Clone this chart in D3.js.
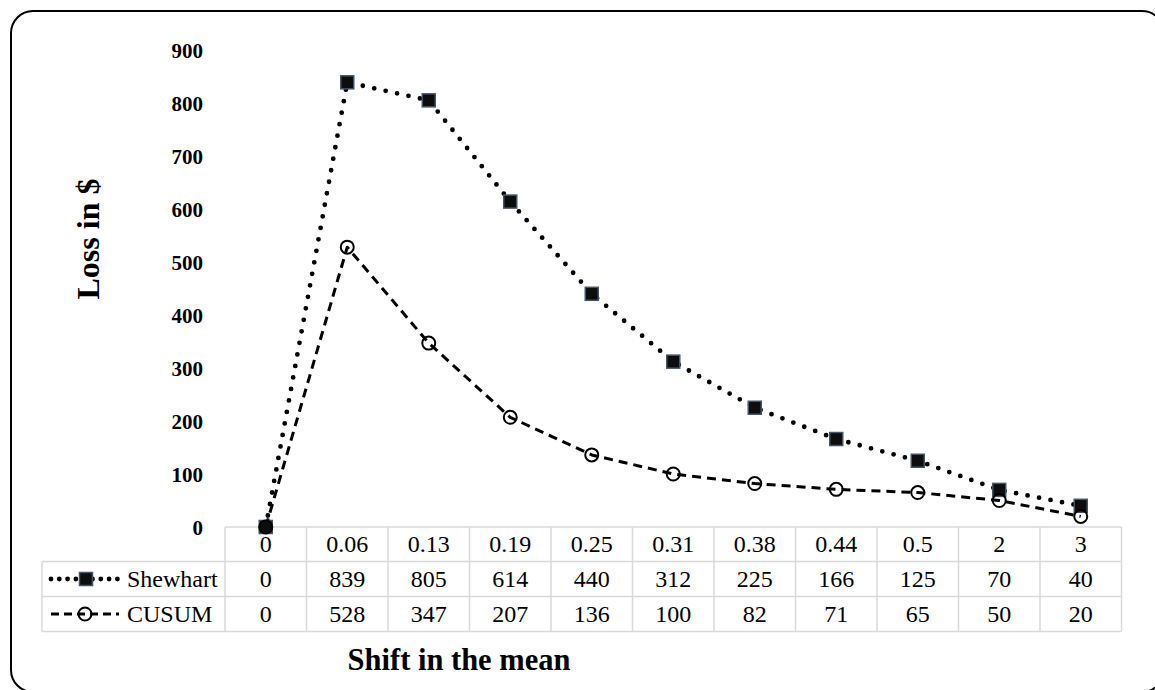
<!DOCTYPE html>
<html>
<head>
<meta charset="utf-8">
<script src="https://cdn.jsdelivr.net/npm/d3@7"></script>
<style>
  html, body { margin: 0; padding: 0; background: #fff; }
  svg { display: block; }
  text { font-family: "Times New Roman", "Liberation Serif", serif; fill: #000; }
</style>
</head>
<body>
<svg id="chart" width="1155" height="690"></svg>
<script>
// Shift sizes (categories) and loss per scheme
const categories = ["0", "0.06", "0.13", "0.19", "0.25", "0.31", "0.38", "0.44", "0.5", "2", "3"];
const shewhart = [0, 839, 805, 614, 440, 312, 225, 166, 125, 70, 40];
const cusum = [0, 528, 347, 207, 136, 100, 82, 71, 65, 50, 20];
const yTicks = [0, 100, 200, 300, 400, 500, 600, 700, 800, 900];
const seriesNames = ["Shewhart", "CUSUM"];

const svg = d3.select("#chart");

// Rounded frame around the whole chart
svg.append("rect")
  .attr("x", 11).attr("y", 11)
  .attr("width", 1153).attr("height", 681)
  .attr("rx", 22).attr("ry", 22)
  .attr("fill", "none").attr("stroke", "#000").attr("stroke-width", 2);

const x = d3.scaleBand().domain(categories).range([225, 1121.5]).padding(0);
const y = d3.scaleLinear().domain([0, 900]).range([527, 50]);
const cx = c => x(c) + x.bandwidth() / 2;

// Value axis (labels only)
const yAxis = svg.append("g")
  .attr("transform", "translate(203,0)")
  .call(d3.axisLeft(y).tickValues(yTicks).tickSize(0).tickPadding(0).tickFormat(d3.format("d")));
yAxis.select(".domain").remove();
yAxis.selectAll("text")
  .attr("dy", "0.35em")
  .style("font-family", "\"Times New Roman\", \"Liberation Serif\", serif")
  .style("font-size", "21px")
  .style("font-weight", "bold")
  .attr("fill", "#000");

svg.append("text")
  .attr("transform", "translate(88,239) rotate(-90)")
  .attr("text-anchor", "middle")
  .attr("dominant-baseline", "central")
  .style("font-size", "32px").style("font-weight", "bold")
  .text("Loss in $");

svg.append("text")
  .attr("x", 459).attr("y", 660)
  .attr("text-anchor", "middle")
  .attr("dominant-baseline", "central")
  .style("font-size", "30.5px").style("font-weight", "bold")
  .text("Shift in the mean");

// Data table under the plot
const rowY = [527, 561.5, 596.5, 631.5];
const tableLeft = 42;
const gridColor = "#d9d9d9";
const table = svg.append("g").attr("stroke", gridColor).attr("stroke-width", 1.5).attr("fill", "none");
// header row (categories only)
table.append("line").attr("x1", x.range()[0]).attr("x2", x.range()[1]).attr("y1", rowY[0]).attr("y2", rowY[0]);
[1, 2, 3].forEach(i => {
  table.append("line").attr("x1", tableLeft).attr("x2", x.range()[1]).attr("y1", rowY[i]).attr("y2", rowY[i]);
});
table.append("line").attr("x1", tableLeft).attr("x2", tableLeft).attr("y1", rowY[1]).attr("y2", rowY[3]);
categories.forEach(c => {
  table.append("line").attr("x1", x(c)).attr("x2", x(c)).attr("y1", rowY[0]).attr("y2", rowY[3]);
});
table.append("line").attr("x1", x.range()[1]).attr("x2", x.range()[1]).attr("y1", rowY[0]).attr("y2", rowY[3]);

const rows = [categories, shewhart, cusum];
rows.forEach((vals, r) => {
  svg.append("g").selectAll("text").data(vals).join("text")
    .attr("x", (d, i) => cx(categories[i]))
    .attr("y", (rowY[r] + rowY[r + 1]) / 2)
    .attr("text-anchor", "middle")
    .attr("dominant-baseline", "central")
    .style("font-size", "24px")
    .text(d => d);
});

// Series styles
const styles = {
  Shewhart: { width: 4.8, dash: "0,11.7", cap: "round", legendDash: "0,8.3" },
  CUSUM: { width: 3, dash: "9,6", cap: "butt", legendDash: "8,5" }
};

function squareMarker(g, px, py) {
  g.append("rect")
    .attr("x", px - 6.5).attr("y", py - 6.5)
    .attr("width", 13).attr("height", 13)
    .attr("fill", "#0d0d0d").attr("stroke", "#44546a").attr("stroke-width", 1.5);
}
function circleMarker(g, px, py) {
  g.append("circle")
    .attr("cx", px).attr("cy", py).attr("r", 6.5)
    .attr("fill", "none").attr("stroke", "#000").attr("stroke-width", 2);
}

const line = d3.line()
  .x((d, i) => cx(categories[i]))
  .y(d => y(d))
  .curve(d3.curveLinear);

const plot = svg.append("g");
[[shewhart, "Shewhart"], [cusum, "CUSUM"]].forEach(([vals, name]) => {
  const s = styles[name];
  plot.append("path")
    .attr("d", line(vals))
    .attr("fill", "none").attr("stroke", "#000")
    .attr("stroke-width", s.width)
    .attr("stroke-dasharray", s.dash)
    .attr("stroke-linecap", s.cap)
    .attr("stroke-linejoin", "round");
});
const markers = svg.append("g");
shewhart.forEach((v, i) => squareMarker(markers, cx(categories[i]), y(v)));
cusum.forEach((v, i) => circleMarker(markers, cx(categories[i]), y(v)));

// Legend keys inside the table
seriesNames.forEach((name, r) => {
  const s = styles[name];
  const yy = (rowY[r + 1] + rowY[r + 2]) / 2;
  const g = svg.append("g");
  g.append("line")
    .attr("x1", 51).attr("x2", 119).attr("y1", yy).attr("y2", yy)
    .attr("stroke", "#000").attr("stroke-width", name === "Shewhart" ? 4.8 : 3)
    .attr("stroke-dasharray", s.legendDash).attr("stroke-linecap", s.cap);
  if (name === "Shewhart") squareMarker(g, 86, yy); else circleMarker(g, 85, yy);
  g.append("text")
    .attr("x", 127).attr("y", yy)
    .attr("dominant-baseline", "central")
    .style("font-size", "24px")
    .text(name);
});
</script>
</body>
</html>
